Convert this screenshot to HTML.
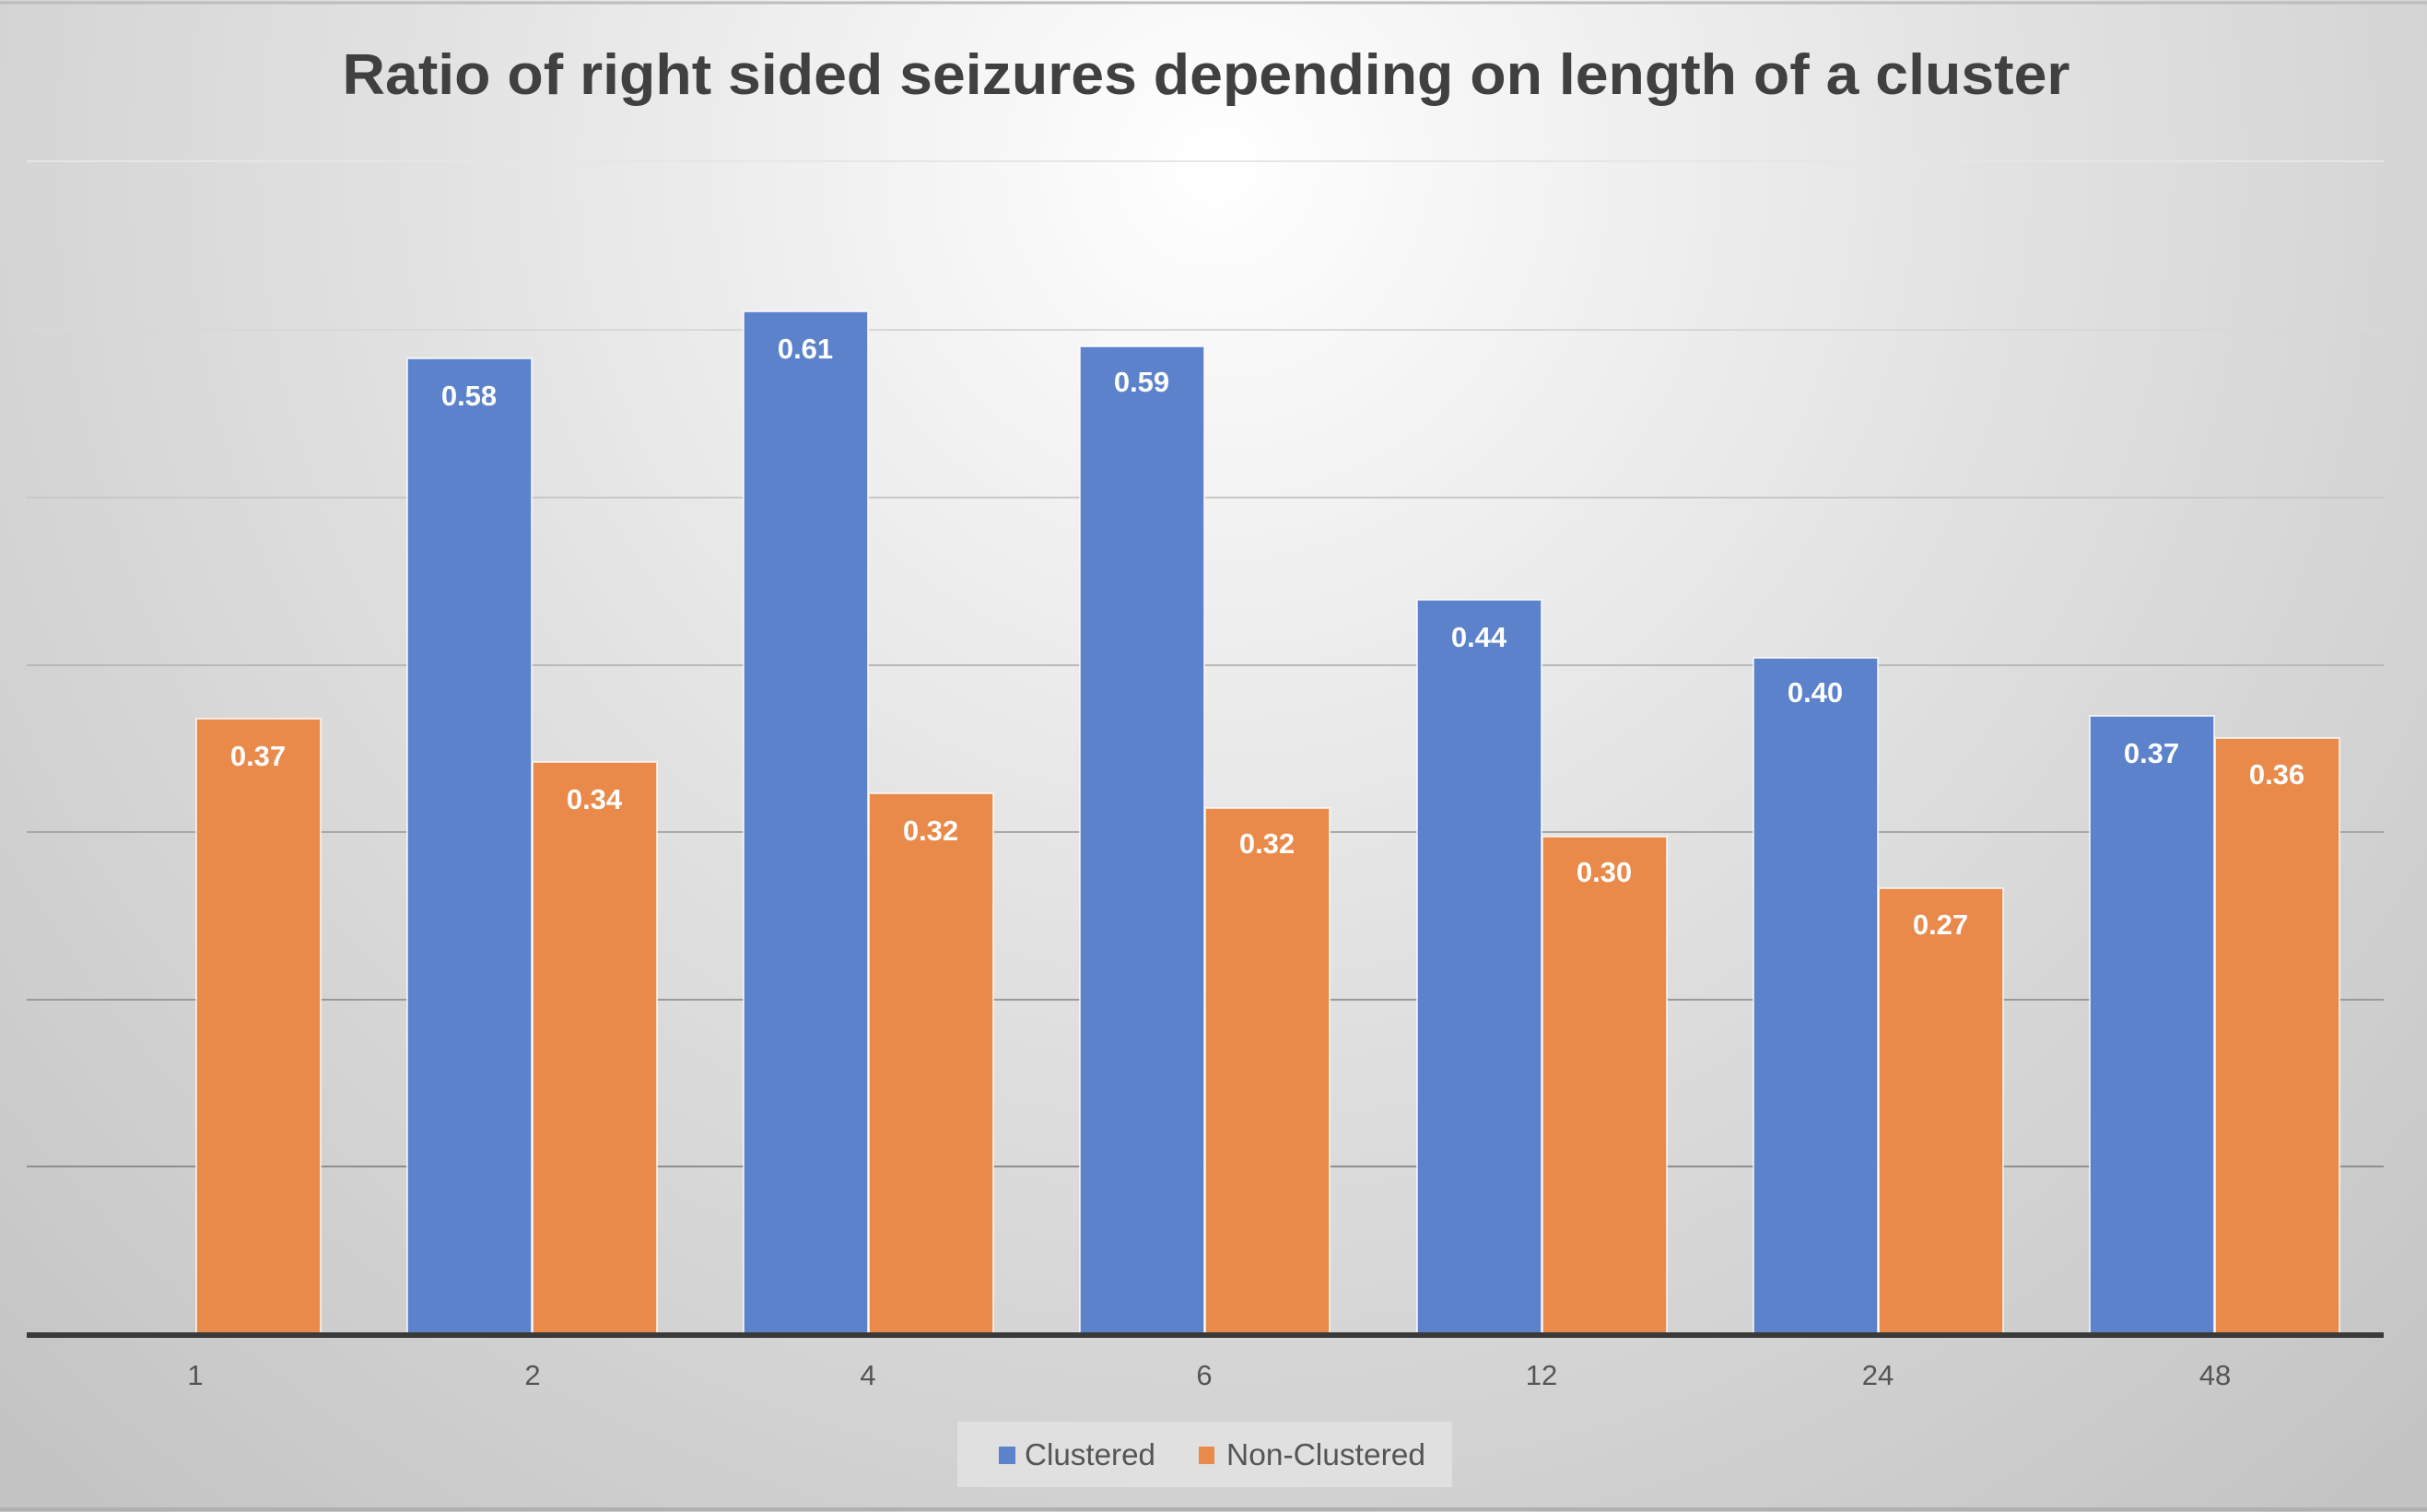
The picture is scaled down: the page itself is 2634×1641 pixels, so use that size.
<!DOCTYPE html>
<html><head><meta charset="utf-8"><style>
html,body{margin:0;padding:0;}
body{width:2634px;height:1641px;overflow:hidden;}
svg{display:block;}
text{font-family:"Liberation Sans",sans-serif;}
</style></head><body>
<svg width="2634" height="1641" viewBox="0 0 2634 1641" xmlns="http://www.w3.org/2000/svg">
<defs>
<radialGradient id="bg" cx="1320" cy="180" r="1900" gradientUnits="userSpaceOnUse">
<stop offset="0" stop-color="#ffffff"/>
<stop offset="0.45" stop-color="#e2e2e2"/>
<stop offset="1" stop-color="#c4c4c4"/>
</radialGradient>
</defs>
<rect width="2634" height="1641" fill="url(#bg)"/>
<line x1="0" y1="3" x2="2634" y2="3" stroke="#bdbdbd" stroke-width="3"/>
<line x1="0" y1="1638" x2="2634" y2="1638" stroke="#b0b0b0" stroke-width="4"/>
<text x="1309" y="102" text-anchor="middle" font-size="62" font-weight="bold" fill="#404040" textLength="1875" lengthAdjust="spacingAndGlyphs">Ratio of right sided seizures depending on length of a cluster</text>
<g stroke-width="2">
<line x1="29" x2="2587" y1="175" y2="175" stroke="#e6e6e6"/>
<line x1="29" x2="2587" y1="358" y2="358" stroke="#d8d8d8"/>
<line x1="29" x2="2587" y1="540" y2="540" stroke="#c8c8c8"/>
<line x1="29" x2="2587" y1="722" y2="722" stroke="#b8b8b8"/>
<line x1="29" x2="2587" y1="903" y2="903" stroke="#a8a8a8"/>
<line x1="29" x2="2587" y1="1085" y2="1085" stroke="#9a9a9a"/>
<line x1="29" x2="2587" y1="1266" y2="1266" stroke="#8e8e8e"/>
</g>
<g stroke="#ffffff" stroke-width="2" stroke-opacity="0.7">
<rect x="213" y="780" width="135" height="669" fill="#e98a4b"/>
<rect x="442" y="389" width="135" height="1060" fill="#5b82ca"/>
<rect x="578" y="827" width="135" height="622" fill="#e98a4b"/>
<rect x="807" y="338" width="135" height="1111" fill="#5b82ca"/>
<rect x="943" y="861" width="135" height="588" fill="#e98a4b"/>
<rect x="1172" y="376" width="135" height="1073" fill="#5b82ca"/>
<rect x="1308" y="877" width="135" height="572" fill="#e98a4b"/>
<rect x="1538" y="651" width="135" height="798" fill="#5b82ca"/>
<rect x="1674" y="908" width="135" height="541" fill="#e98a4b"/>
<rect x="1903" y="714" width="135" height="735" fill="#5b82ca"/>
<rect x="2039" y="964" width="135" height="485" fill="#e98a4b"/>
<rect x="2268" y="777" width="135" height="672" fill="#5b82ca"/>
<rect x="2404" y="801" width="135" height="648" fill="#e98a4b"/>
</g>
<g font-size="31" font-weight="bold" fill="#ffffff" text-anchor="middle">
<text x="280" y="831">0.37</text>
<text x="509" y="440">0.58</text>
<text x="645" y="878">0.34</text>
<text x="874" y="389">0.61</text>
<text x="1010" y="912">0.32</text>
<text x="1239" y="425">0.59</text>
<text x="1375" y="926">0.32</text>
<text x="1605" y="702">0.44</text>
<text x="1741" y="957">0.30</text>
<text x="1970" y="762">0.40</text>
<text x="2106" y="1014">0.27</text>
<text x="2335" y="828">0.37</text>
<text x="2471" y="851">0.36</text>
</g>
<line x1="29" x2="2587" y1="1449" y2="1449" stroke="#3a3a3a" stroke-width="6"/>
<g font-size="31" fill="#555555" text-anchor="middle">
<text x="212" y="1503">1</text>
<text x="578" y="1503">2</text>
<text x="942" y="1503">4</text>
<text x="1307" y="1503">6</text>
<text x="1673" y="1503">12</text>
<text x="2038" y="1503">24</text>
<text x="2404" y="1503">48</text>
</g>
<rect x="1039" y="1543" width="537" height="71" fill="#e0e0e0"/>
<rect x="1084" y="1570" width="18" height="19" fill="#5b82ca"/>
<text x="1112" y="1590" font-size="33" fill="#555555" textLength="142" lengthAdjust="spacingAndGlyphs">Clustered</text>
<rect x="1301" y="1570" width="17" height="19" fill="#e98a4b"/>
<text x="1331" y="1590" font-size="33" fill="#555555" textLength="216" lengthAdjust="spacingAndGlyphs">Non-Clustered</text>
</svg>
</body></html>
